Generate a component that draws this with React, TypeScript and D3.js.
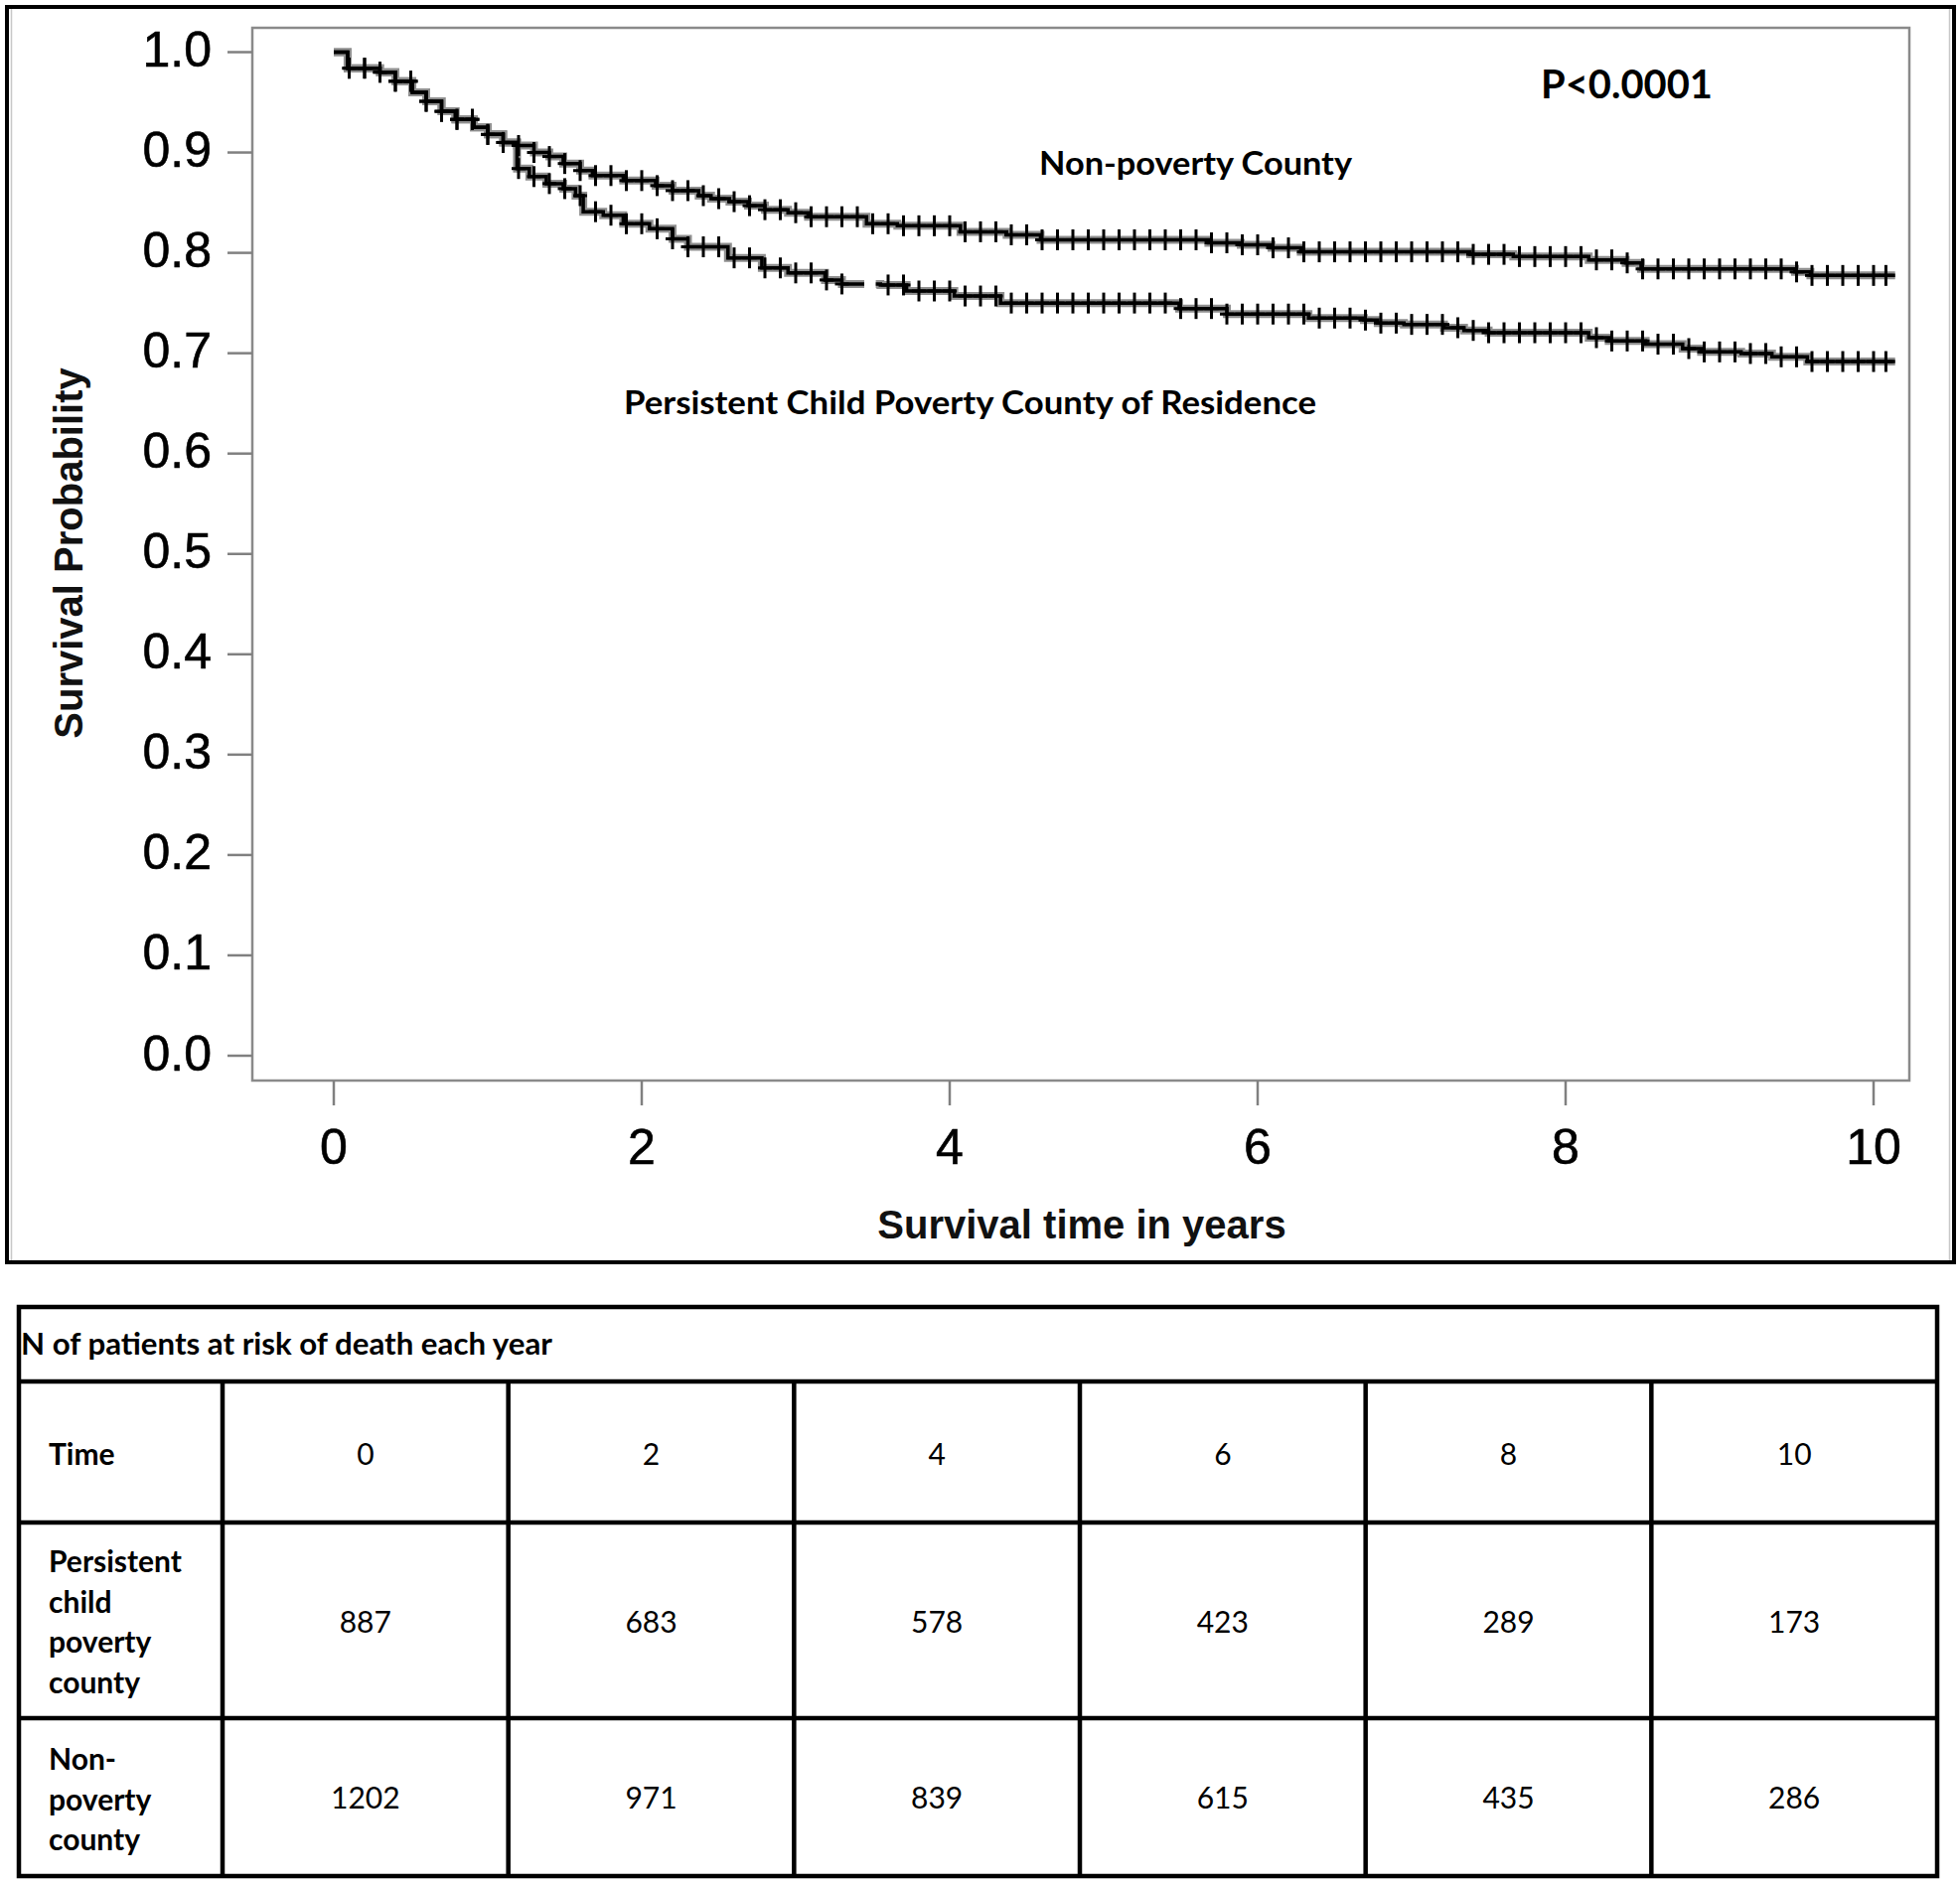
import React from "react";
import * as d3 from "d3";

// ---------- data ----------
const X_TICKS = [0, 2, 4, 6, 8, 10];
const Y_TICKS = [0.0, 0.1, 0.2, 0.3, 0.4, 0.5, 0.6, 0.7, 0.8, 0.9, 1.0];

// Non-poverty county KM steps: [time (years), survival after step]
const NONPOVERTY_STEPS: [number, number][] = [
  [0, 1.0], [0.09, 0.984], [0.3, 0.98], [0.4, 0.971], [0.51, 0.96], [0.6, 0.951],
  [0.7, 0.941], [0.79, 0.933], [0.91, 0.925], [1.0, 0.918], [1.1, 0.91], [1.19, 0.907],
  [1.3, 0.9], [1.4, 0.896], [1.49, 0.889], [1.6, 0.882], [1.68, 0.877], [1.88, 0.872],
  [2.09, 0.867], [2.2, 0.862], [2.37, 0.857], [2.45, 0.854], [2.57, 0.851], [2.69, 0.847],
  [2.8, 0.843], [2.95, 0.84], [3.08, 0.836], [3.46, 0.829], [3.66, 0.827], [4.07, 0.821],
  [4.37, 0.818], [4.59, 0.813], [5.68, 0.81], [5.89, 0.808], [6.09, 0.805], [6.28, 0.801],
  [7.38, 0.7985], [7.66, 0.7963], [8.15, 0.793], [8.39, 0.79], [8.49, 0.784], [9.49, 0.781],
  [9.59, 0.7775],
];

// Persistent child poverty county KM steps
const POVERTY_STEPS: [number, number][] = [
  [0, 1.0], [0.09, 0.984], [0.3, 0.98], [0.4, 0.971], [0.51, 0.96], [0.6, 0.951],
  [0.7, 0.941], [0.79, 0.933], [0.91, 0.925], [1.0, 0.918], [1.1, 0.91], [1.19, 0.884],
  [1.27, 0.876], [1.38, 0.869], [1.49, 0.864], [1.57, 0.857], [1.62, 0.841], [1.75, 0.8375],
  [1.88, 0.829], [2.05, 0.824], [2.2, 0.814], [2.3, 0.806], [2.56, 0.795], [2.78, 0.785],
  [2.95, 0.78], [3.19, 0.773], [3.3, 0.769], [3.55, 0.768], [3.72, 0.762], [4.03, 0.757],
  [4.33, 0.75], [5.49, 0.7445], [5.8, 0.739], [6.33, 0.735], [6.69, 0.733], [6.78, 0.73],
  [6.95, 0.7287], [7.21, 0.7254], [7.34, 0.7227], [7.5, 0.7204], [8.15, 0.7155], [8.28, 0.7122],
  [8.52, 0.709], [8.76, 0.7046], [8.88, 0.7013], [9.14, 0.6997], [9.34, 0.6964], [9.57, 0.6917],
];

const CURVE_END = 10.14;

// censor marks (years)
const NONPOVERTY_CENSOR = [
  0.1, 0.2, 0.3, 0.4, 0.5, 0.6, 0.7, 0.8, 0.9, 1.0, 1.1, 1.2, 1.3, 1.4, 1.5, 1.6, 1.7, 1.8, 1.9, 2.0,
  2.1, 2.2, 2.3, 2.4, 2.5, 2.6, 2.7, 2.8, 2.9, 3.0, 3.1, 3.2, 3.3, 3.4, 3.5, 3.6, 3.7, 3.8, 3.9, 4.0,
  4.1, 4.2, 4.3, 4.4, 4.5, 4.6, 4.7, 4.8, 4.9, 5.0, 5.1, 5.2, 5.3, 5.4, 5.5, 5.6, 5.7, 5.8, 5.9, 6.0,
  6.1, 6.2, 6.3, 6.4, 6.5, 6.6, 6.7, 6.8, 6.9, 7.0, 7.1, 7.2, 7.3, 7.4, 7.5, 7.6, 7.7, 7.8, 7.9, 8.0,
  8.1, 8.2, 8.3, 8.4, 8.5, 8.6, 8.7, 8.8, 8.9, 9.0, 9.1, 9.2, 9.3, 9.4, 9.5, 9.6, 9.7, 9.8, 9.9, 10.0,
  10.08,
];
const POVERTY_CENSOR = [
  0.1, 0.2, 0.3, 0.4, 0.5, 0.6, 0.7, 0.8, 0.9, 1.0, 1.1, 1.2, 1.3, 1.4, 1.5, 1.6, 1.7, 1.8, 1.9, 2.0,
  2.1, 2.2, 2.3, 2.4, 2.5, 2.6, 2.7, 2.8, 2.9, 3.0, 3.1, 3.2, 3.3, 3.6, 3.7, 3.8, 3.9, 4.0,
  4.1, 4.2, 4.3, 4.4, 4.5, 4.6, 4.7, 4.8, 4.9, 5.0, 5.1, 5.2, 5.3, 5.4, 5.5, 5.6, 5.7, 5.8, 5.9, 6.0,
  6.1, 6.2, 6.3, 6.4, 6.5, 6.6, 6.7, 6.8, 6.9, 7.0, 7.1, 7.2, 7.3, 7.4, 7.5, 7.6, 7.7, 7.8, 7.9, 8.0,
  8.1, 8.2, 8.3, 8.4, 8.5, 8.6, 8.7, 8.8, 8.9, 9.0, 9.1, 9.2, 9.3, 9.4, 9.5, 9.6, 9.7, 9.8, 9.9, 10.0,
  10.08,
];
// small break in the poverty curve
const POVERTY_GAP: [number, number] = [3.445, 3.52];

// risk table
const TABLE_TITLE = "N of patients at risk of death each year";
const TABLE_TIMES = ["0", "2", "4", "6", "8", "10"];
const POVERTY_AT_RISK = [887, 683, 578, 423, 289, 173];
const NONPOVERTY_AT_RISK = [1202, 971, 839, 615, 435, 286];
const POVERTY_ROW_LABEL = ["Persistent", "child", "poverty", "county"];
const NONPOVERTY_ROW_LABEL = ["Non-", "poverty", "county"];

// ---------- layout ----------
const W = 1973;
const H = 1898;
const PLOT = { left: 254, top: 28, right: 1922, bottom: 1088 };
const AXIS_FONT = "'Liberation Sans', Arial, Helvetica, sans-serif";
const LABEL_FONT = "Lato, 'Open Sans', sans-serif";

function survivalAt(steps: [number, number][], t: number) {
  let s = steps[0][1];
  for (const [tt, ss] of steps) {
    if (tt <= t) s = ss;
    else break;
  }
  return s;
}

export default function App() {
  const x = d3.scaleLinear().domain([0, 10]).range([336, 1886]);
  const y = d3.scaleLinear().domain([0, 1]).range([1063, 52.5]);

  const line = d3
    .line<[number, number]>()
    .x((d) => x(d[0]))
    .y((d) => y(d[1]))
    .curve(d3.curveStepAfter);

  const withEnd = (steps: [number, number][], end: number): [number, number][] => [
    ...steps,
    [end, steps[steps.length - 1][1]],
  ];

  const nonPovPath = line(withEnd(NONPOVERTY_STEPS, CURVE_END)) || "";

  const povAll = withEnd(POVERTY_STEPS, CURVE_END);
  const povA: [number, number][] = [
    ...povAll.filter((d) => d[0] < POVERTY_GAP[0]),
    [POVERTY_GAP[0], survivalAt(POVERTY_STEPS, POVERTY_GAP[0])],
  ];
  const povB: [number, number][] = [
    [POVERTY_GAP[1], survivalAt(POVERTY_STEPS, POVERTY_GAP[1])],
    ...povAll.filter((d) => d[0] > POVERTY_GAP[1]),
  ];
  const povPaths = [line(povA) || "", line(povB) || ""];

  const marks = (steps: [number, number][], times: number[], key: string) =>
    times.map((t, i) => {
      const cx = x(t);
      const cy = y(survivalAt(steps, t));
      return (
        <g key={key + i}>
          <line x1={cx} x2={cx} y1={cy - 10.5} y2={cy + 10.5} stroke="#000" strokeWidth={3} />
          <line x1={cx - 7} x2={cx + 7} y1={cy} y2={cy} stroke="#000" strokeWidth={3} />
        </g>
      );
    });

  // table scales
  const col = d3.scaleBand<string>().domain(TABLE_TIMES).range([224, 1950]);
  const TABLE = { left: 19, right: 1950, rows: [1316, 1391, 1533, 1730, 1889] };

  return (
    <svg
      width={W}
      height={H}
      viewBox={`0 0 ${W} ${H}`}
      style={{ position: "absolute", left: 0, top: 0, display: "block", background: "#fff" }}
    >
      <rect x={0} y={0} width={W} height={H} fill="#fff" />

      {/* outer frame of the plot figure */}
      <rect x={7} y={7} width={1960} height={1264} fill="none" stroke="#000" strokeWidth={4} />
      <line x1={11.5} x2={11.5} y1={9} y2={1269} stroke="#c8c8c8" strokeWidth={1.5} />
      <line x1={1962.5} x2={1962.5} y1={9} y2={1269} stroke="#c8c8c8" strokeWidth={1.5} />

      {/* plot area frame */}
      <rect
        x={PLOT.left}
        y={PLOT.top}
        width={PLOT.right - PLOT.left}
        height={PLOT.bottom - PLOT.top}
        fill="none"
        stroke="#8a8a8a"
        strokeWidth={2.5}
      />

      {/* y axis */}
      {Y_TICKS.map((v) => (
        <g key={"y" + v}>
          <line x1={PLOT.left - 25} x2={PLOT.left} y1={y(v)} y2={y(v)} stroke="#808080" strokeWidth={2.5} />
          <text
            x={213}
            y={y(v) + 14.5}
            textAnchor="end"
            fontFamily={AXIS_FONT}
            fontSize={50}
            fill="#000"
            stroke="#000"
            strokeWidth={0.6}
          >
            {v.toFixed(1)}
          </text>
        </g>
      ))}

      {/* x axis */}
      {X_TICKS.map((v) => (
        <g key={"x" + v}>
          <line x1={x(v)} x2={x(v)} y1={PLOT.bottom} y2={PLOT.bottom + 25} stroke="#808080" strokeWidth={2.5} />
          <text
            x={x(v)}
            y={1172}
            textAnchor="middle"
            fontFamily={AXIS_FONT}
            fontSize={50}
            fill="#000"
            stroke="#000"
            strokeWidth={0.6}
          >
            {String(v)}
          </text>
        </g>
      ))}

      <text
        x={1089}
        y={1247}
        textAnchor="middle"
        fontFamily={AXIS_FONT}
        fontWeight="bold"
        fontSize={40}
        fill="#111"
      >
        Survival time in years
      </text>
      <text
        transform={`translate(83,557) rotate(-90)`}
        textAnchor="middle"
        fontFamily={AXIS_FONT}
        fontWeight="bold"
        fontSize={40}
        fill="#111"
      >
        Survival Probability
      </text>

      {/* curves */}
      <g fill="none" strokeLinejoin="miter">
        <path d={nonPovPath} stroke="#8f8f8f" strokeWidth={8} />
        {povPaths.map((p, i) => (
          <path key={"ph" + i} d={p} stroke="#8f8f8f" strokeWidth={8} />
        ))}
        <path d={nonPovPath} stroke="#000" strokeWidth={3.5} />
        {povPaths.map((p, i) => (
          <path key={"pb" + i} d={p} stroke="#000" strokeWidth={3.5} />
        ))}
      </g>
      {marks(NONPOVERTY_STEPS, NONPOVERTY_CENSOR, "n")}
      {marks(POVERTY_STEPS, POVERTY_CENSOR, "p")}

      {/* annotations */}
      <text x={1551} y={99} fontFamily={LABEL_FONT} fontWeight="bold" fontSize={41} textLength={173} lengthAdjust="spacingAndGlyphs">
        P&lt;0.0001
      </text>
      <text x={1046} y={176} fontFamily={LABEL_FONT} fontWeight="bold" fontSize={32} textLength={315} lengthAdjust="spacingAndGlyphs">
        Non-poverty County
      </text>
      <text x={628} y={417} fontFamily={LABEL_FONT} fontWeight="bold" fontSize={32} textLength={697} lengthAdjust="spacingAndGlyphs">
        Persistent Child Poverty County of Residence
      </text>

      {/* risk table */}
      <g stroke="#000" strokeWidth={4.5} fill="none">
        <rect x={TABLE.left} y={TABLE.rows[0]} width={TABLE.right - TABLE.left} height={TABLE.rows[4] - TABLE.rows[0]} />
        {TABLE.rows.slice(1, 4).map((ry) => (
          <line key={"r" + ry} x1={TABLE.left} x2={TABLE.right} y1={ry} y2={ry} />
        ))}
        {TABLE_TIMES.map((t) => (
          <line key={"c" + t} x1={col(t)!} x2={col(t)!} y1={TABLE.rows[1]} y2={TABLE.rows[4]} />
        ))}
      </g>
      <text x={21} y={1364} fontFamily={LABEL_FONT} fontWeight="bold" fontSize={30} textLength={535} lengthAdjust="spacingAndGlyphs">
        {TABLE_TITLE}
      </text>
      <text x={49} y={1475} fontFamily={LABEL_FONT} fontWeight="bold" fontSize={30}>
        Time
      </text>
      {POVERTY_ROW_LABEL.map((w, i) => (
        <text key={"pl" + i} x={49} y={1583 + i * 40.7} fontFamily={LABEL_FONT} fontWeight="bold" fontSize={30}>
          {w}
        </text>
      ))}
      {NONPOVERTY_ROW_LABEL.map((w, i) => (
        <text key={"nl" + i} x={49} y={1782 + i * 40.7} fontFamily={LABEL_FONT} fontWeight="bold" fontSize={30}>
          {w}
        </text>
      ))}
      {TABLE_TIMES.map((t, i) => {
        const cx = col(t)! + col.bandwidth() / 2;
        return (
          <g key={"v" + t} fontFamily={LABEL_FONT} fontSize={30} textAnchor="middle" fill="#000">
            <text x={cx} y={1475}>{t}</text>
            <text x={cx} y={1644}>{POVERTY_AT_RISK[i]}</text>
            <text x={cx} y={1821}>{NONPOVERTY_AT_RISK[i]}</text>
          </g>
        );
      })}
    </svg>
  );
}
